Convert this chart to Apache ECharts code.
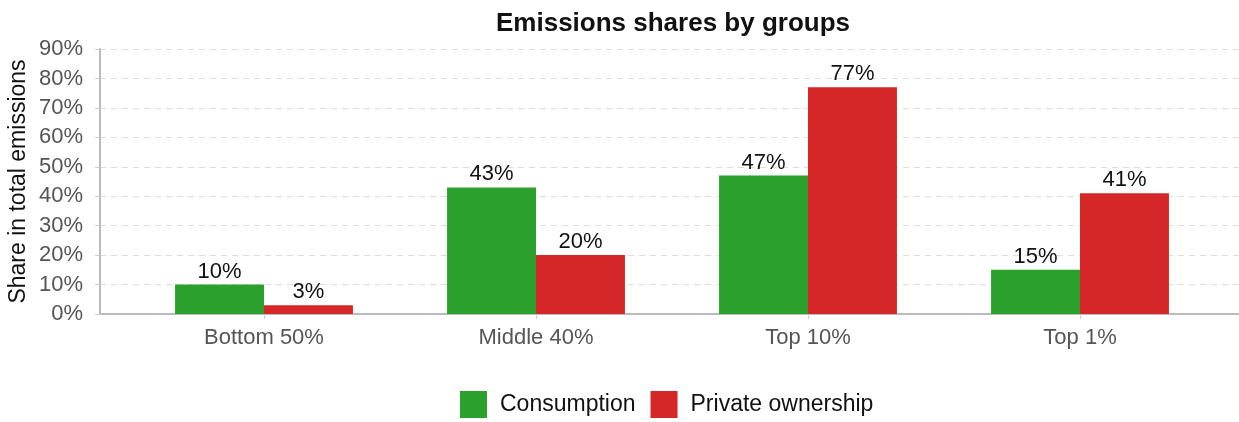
<!DOCTYPE html>
<html>
<head>
<meta charset="utf-8">
<script src="https://cdn.jsdelivr.net/npm/echarts@6/dist/echarts.min.js"></script>
<style>
  html, body { margin: 0; padding: 0; background: #fff; }
  #chart { width: 1239px; height: 422px; }
</style>
</head>
<body>
<div id="chart"></div>
<script>
const categories = ['Bottom 50%', 'Middle 40%', 'Top 10%', 'Top 1%']
const consumption = [10, 43, 47, 15]
const privateOwnership = [3, 20, 77, 41]
const yTicks = [0, 10, 20, 30, 40, 50, 60, 70, 80, 90]

const font = '"Liberation Sans", Arial, sans-serif'
const chart = echarts.init(document.getElementById('chart'))

const barLabel = {
  show: true,
  position: 'top',
  distance: 2,
  color: '#111',
  fontSize: 22,
  fontFamily: font,
  formatter: p => p.value + '%'
}

chart.setOption({
  animation: false,
  title: {
    text: 'Emissions shares by groups',
    left: 668,
    textAlign: 'center',
    top: 6,
    textStyle: { fontSize: 26, fontWeight: 'bold', color: '#111', fontFamily: font }
  },
  legend: {
    data: ['Consumption', 'Private ownership'],
    left: 460,
    top: 391,
    padding: 0,
    icon: 'rect',
    itemWidth: 27,
    itemHeight: 27,
    itemGap: 15,
    textStyle: { fontSize: 23, color: '#111', fontFamily: font, padding: [0, 0, 0, 8] }
  },
  // grid 0 draws the frame (axis lines, y labels, grid lines), grid 1 holds the bars
  grid: [
    { left: 100, right: 0, top: 49, bottom: 108, outerBoundsMode: 'none' },
    { left: 128, right: 23, top: 49, bottom: 108, outerBoundsMode: 'none' }
  ],
  xAxis: [{
    gridIndex: 0,
    type: 'value',
    min: 0,
    max: 1,
    axisLine: { show: true, lineStyle: { color: '#bbb', width: 2 } },
    axisTick: { show: false },
    axisLabel: { show: false },
    splitLine: { show: false }
  }, {
    gridIndex: 1,
    type: 'category',
    data: categories,
    axisLine: { show: false },
    axisTick: { show: true, alignWithLabel: true, length: 5, lineStyle: { color: '#ccc' } },
    axisLabel: { fontSize: 22, color: '#555', margin: 13, fontFamily: font }
  }],
  yAxis: [{
    gridIndex: 0,
    type: 'value',
    min: yTicks[0],
    max: yTicks[yTicks.length - 1],
    interval: 10,
    name: 'Share in total emissions',
    nameLocation: 'middle',
    nameGap: 70,
    nameMoveOverlap: false,
    nameTextStyle: { fontSize: 23, color: '#111', fontFamily: font },
    axisLine: { show: true, lineStyle: { color: '#bbb', width: 2 } },
    axisTick: { show: true, length: 5, lineStyle: { color: '#ccc' } },
    axisLabel: { fontSize: 22, color: '#555', margin: 17, fontFamily: font, formatter: '{value}%' },
    splitLine: { show: true, lineStyle: { color: '#ddd', type: [6, 5] } }
  }, {
    gridIndex: 1,
    type: 'value',
    min: 0,
    max: 90,
    show: false
  }],
  series: [{
    name: 'Consumption',
    type: 'bar',
    xAxisIndex: 1,
    yAxisIndex: 1,
    data: consumption,
    itemStyle: { color: '#2ca02c' },
    barGap: '0%',
    barCategoryGap: '34.6%',
    label: barLabel
  }, {
    name: 'Private ownership',
    type: 'bar',
    xAxisIndex: 1,
    yAxisIndex: 1,
    data: privateOwnership,
    itemStyle: { color: '#d62728' },
    barGap: '0%',
    barCategoryGap: '34.6%',
    label: barLabel
  }]
})
</script>
</body>
</html>
